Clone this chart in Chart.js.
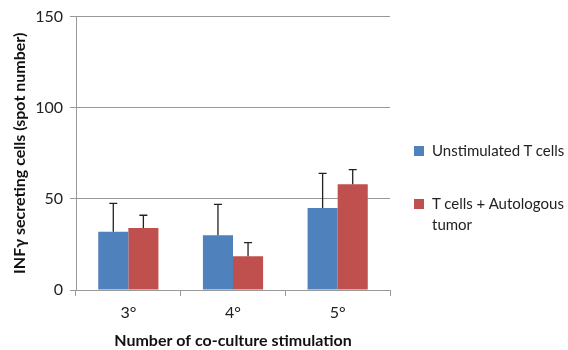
<!DOCTYPE html>
<html><head><meta charset="utf-8">
<script src="https://cdn.jsdelivr.net/npm/chart.js@4/dist/chart.umd.min.js"></script>
<style>
html,body{margin:0;padding:0;background:#fff;}
#wrap{position:relative;width:568px;height:350px;}
canvas{position:absolute;left:0;top:0;}
.lg{position:absolute;font-family:Lato,"Open Sans",sans-serif;font-size:15px;color:#222;line-height:21px;}
.sw{position:absolute;width:10px;height:10px;}
</style></head>
<body><div id="wrap"><canvas id="c" width="568" height="350"></canvas>
<div class="sw" style="left:414px;top:146px;background:#4F81BD"></div>
<div class="lg" style="left:432px;top:140px;">Unstimulated T cells</div>
<div class="sw" style="left:414px;top:199px;background:#C0504D"></div>
<div class="lg" style="left:432px;top:193px;">T cells + Autologous<br>tumor</div>
</div>
<script>
const categories = ["3°", "4°", "5°"];
const seriesNames = ["Unstimulated T cells", "T cells + Autologous tumor"];
const unstimulated = [32, 30, 45];
const unstimulatedErr = [15.5, 17, 19];
const autologous = [34, 18.5, 58];
const autologousErr = [7, 7.5, 8];
const yTicks = [0, 50, 100, 150];

const errors = [unstimulatedErr, autologousErr];

const errorBars = {
  id: 'errorBars',
  afterDatasetsDraw(chart) {
    const ctx = chart.ctx, y = chart.scales.y;
    ctx.save();
    ctx.strokeStyle = '#222';
    ctx.lineWidth = 1.3;
    chart.data.datasets.forEach((ds, di) => {
      const meta = chart.getDatasetMeta(di);
      meta.data.forEach((bar, i) => {
        const top = y.getPixelForValue(ds.data[i] + errors[di][i]);
        ctx.beginPath();
        ctx.moveTo(bar.x, bar.y);
        ctx.lineTo(bar.x, top);
        ctx.moveTo(bar.x - 4, top);
        ctx.lineTo(bar.x + 4, top);
        ctx.stroke();
      });
    });
    ctx.restore();
  }
};

new Chart(document.getElementById('c'), {
  type: 'bar',
  data: {
    labels: categories,
    datasets: [
      {label: seriesNames[0], data: unstimulated, backgroundColor: '#4F81BD'},
      {label: seriesNames[1], data: autologous, backgroundColor: '#C0504D'}
    ]
  },
  options: {
    responsive: false,
    animation: false,
    devicePixelRatio: 1,
    layout: {padding: {left: 0, right: 178, top: 16, bottom: 0}},
    datasets: {bar: {categoryPercentage: 0.575, barPercentage: 1.0}},
    plugins: {legend: {display: false}, tooltip: {enabled: false}},
    scales: {
      x: {
        grid: {drawOnChartArea: false, drawTicks: true, tickLength: 6, color: '#999', offset: true},
        border: {color: '#999'},
        ticks: {color: '#222', font: {family: 'Lato', size: 16}, padding: 7},
        title: {display: true, text: 'Number of co-culture stimulation', color: '#111',
                font: {family: 'Lato', size: 16, weight: 'bold'}, padding: {top: 8, bottom: 0}},
        afterFit(s) { s.height = 60; }
      },
      y: {
        min: 0, max: 150,
        afterBuildTicks(s) { s.ticks = yTicks.map(v => ({value: v})); },
        grid: {color: '#999', tickLength: 6},
        border: {color: '#999'},
        ticks: {color: '#222', font: {family: 'Lato', size: 16}, padding: 7},
        title: {display: true, text: 'INFγ secreting cells (spot number)', color: '#111',
                font: {family: 'Lato', size: 16, weight: 'bold'}, padding: {top: 10, bottom: 4}},
        afterFit(s) { s.width = 76; }
      }
    }
  },
  plugins: [errorBars]
});
</script></body></html>
